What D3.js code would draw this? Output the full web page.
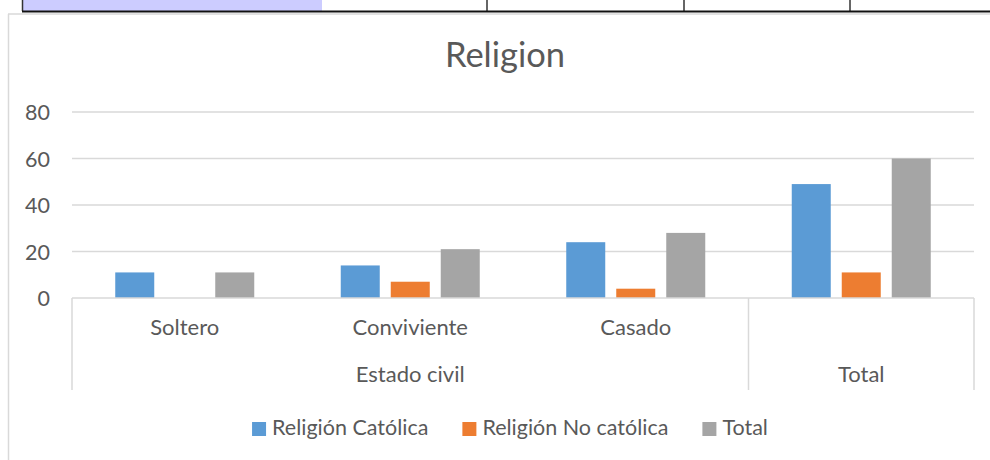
<!DOCTYPE html>
<html>
<head>
<meta charset="utf-8">
<script src="https://cdn.jsdelivr.net/npm/d3@7/dist/d3.min.js"></script>
<style>
  html, body { margin: 0; padding: 0; background: #fff; }
  svg { display: block; }
  text { font-family: Lato, "Open Sans", sans-serif; fill: #595959; }
</style>
</head>
<body>
<svg id="chart" width="990" height="460"></svg>
<script>
// ---- data ----
const title = "Religion";
const categories = ["Soltero", "Conviviente", "Casado", "Total"];
const groupLabels = [
  { label: "Estado civil", cats: ["Soltero", "Conviviente", "Casado"], showInner: true },
  { label: "Total", cats: ["Total"], showInner: false }
];
const seriesNames = ["Religión Católica", "Religión No católica", "Total"];
const catolica   = [11, 14, 24, 49];
const noCatolica = [0, 7, 4, 11];
const totalVals  = [11, 21, 28, 60];
const yTicks = [0, 20, 40, 60, 80];
const colors = ["#5B9BD5", "#ED7D31", "#A5A5A5"];

const seriesValues = [catolica, noCatolica, totalVals];

const svg = d3.select("#chart");

// ---- fragment of the table above ----
const tbl = svg.append("g");
tbl.append("rect").attr("x", 23).attr("y", 0).attr("width", 299).attr("height", 11).attr("fill", "#CCCCFF");
[22.5, 487, 684, 850].forEach(x => {
  tbl.append("line").attr("x1", x).attr("x2", x).attr("y1", 0).attr("y2", 11).attr("stroke", "#333").attr("stroke-width", 1.5);
});
tbl.append("line").attr("x1", 22).attr("x2", 990).attr("y1", 11.5).attr("y2", 11.5).attr("stroke", "#111").attr("stroke-width", 2);

// ---- chart frame ----
svg.append("line").attr("x1", 8).attr("x2", 990).attr("y1", 14).attr("y2", 14).attr("stroke", "#D9D9D9").attr("stroke-width", 1.5);
svg.append("line").attr("x1", 8.5).attr("x2", 8.5).attr("y1", 14).attr("y2", 460).attr("stroke", "#D9D9D9").attr("stroke-width", 1.5);

// ---- scales ----
const x0 = d3.scaleBand().domain(categories).range([72, 974]).padding(0);
const x1 = d3.scaleBand().domain(seriesNames).range([0, x0.bandwidth()]).paddingInner(0.22).paddingOuter(0.865);
const y = d3.scaleLinear().domain([0, 80]).range([298, 112]);

// title
svg.append("text").attr("x", 505).attr("y", 67).attr("text-anchor", "middle")
  .style("font-size", "34.5px").text(title);

// gridlines
svg.append("g").selectAll("line").data(yTicks.filter(d => d > 0)).join("line")
  .attr("x1", 72).attr("x2", 974)
  .attr("y1", d => y(d)).attr("y2", d => y(d))
  .attr("stroke", "#D9D9D9").attr("stroke-width", 1.3);

// y axis labels
const yAxis = d3.axisLeft(y).tickValues(yTicks).tickSize(0).tickPadding(0);
const yg = svg.append("g").attr("transform", "translate(50,0)").call(yAxis);
yg.select(".domain").remove();
yg.selectAll("text").style("font-size", "21.5px").attr("fill", "#595959").attr("dy", "0.35em");

// bars
const barG = svg.append("g");
seriesNames.forEach((s, si) => {
  barG.append("g").selectAll("rect")
    .data(categories.map((c, ci) => ({ c, v: seriesValues[si][ci] })))
    .join("rect")
    .attr("x", d => x0(d.c) + x1(s))
    .attr("width", x1.bandwidth())
    .attr("y", d => y(d.v))
    .attr("height", d => y(0) - y(d.v))
    .attr("fill", colors[si]);
});

// category axis line
svg.append("line").attr("x1", 72).attr("x2", 974).attr("y1", y(0)).attr("y2", y(0))
  .attr("stroke", "#D9D9D9").attr("stroke-width", 1.5);

// group dividers
const boundaries = [x0(categories[0])];
groupLabels.forEach(g => { boundaries.push(x0(g.cats[g.cats.length - 1]) + x0.bandwidth()); });
svg.append("g").selectAll("line").data(boundaries).join("line")
  .attr("x1", d => d).attr("x2", d => d).attr("y1", y(0)).attr("y2", 390)
  .attr("stroke", "#D9D9D9").attr("stroke-width", 1.5);

// inner category labels
groupLabels.forEach(g => {
  if (g.showInner) {
    svg.append("g").selectAll("text").data(g.cats).join("text")
      .attr("x", d => x0(d) + x0.bandwidth() / 2).attr("y", 335)
      .attr("text-anchor", "middle").style("font-size", "22px").text(d => d);
  }
  const gx = (x0(g.cats[0]) + x0(g.cats[g.cats.length - 1]) + x0.bandwidth()) / 2;
  svg.append("text").attr("x", gx).attr("y", 382).attr("text-anchor", "middle")
    .style("font-size", "22px").text(g.label);
});

// legend
const leg = svg.append("g");
let lx = 0;
seriesNames.forEach((s, i) => {
  const it = leg.append("g");
  it.append("rect").attr("x", 0).attr("y", 422).attr("width", 14).attr("height", 14).attr("fill", colors[i]);
  const t = it.append("text").attr("x", 20).attr("y", 435).style("font-size", "21.5px").text(s);
  const w = 20 + t.node().getComputedTextLength();
  it.attr("transform", `translate(${lx},0)`);
  lx += w + 34;
});
const legW = lx - 34;
leg.attr("transform", `translate(${510 - legW / 2},0)`);
</script>
</body>
</html>
